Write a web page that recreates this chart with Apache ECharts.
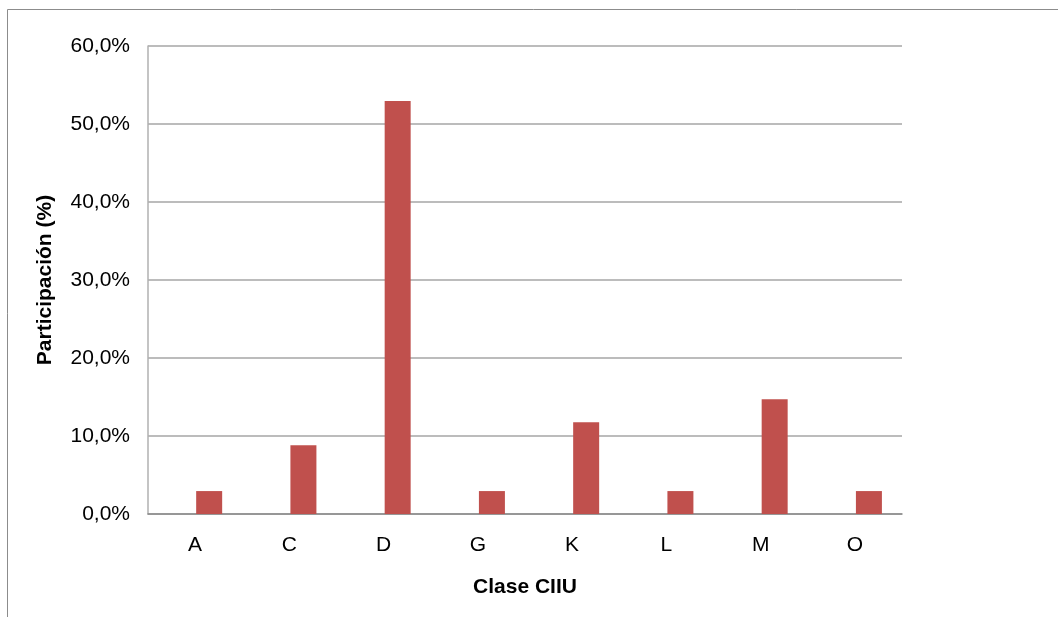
<!DOCTYPE html>
<html>
<head>
<meta charset="utf-8">
<script src="https://cdn.jsdelivr.net/npm/echarts@6/dist/echarts.min.js"></script>
<style>
  html, body { margin: 0; padding: 0; background: #ffffff; }
  #chart { width: 1058px; height: 617px; }
</style>
</head>
<body>
<div id="chart"></div>
<script>
// Participación por clase CIIU (%)
const categories = ['A', 'C', 'D', 'G', 'K', 'L', 'M', 'O'];
const participacion = [2.94, 8.82, 52.94, 2.94, 11.76, 2.94, 14.71, 2.94];
// empty companion series: keeps its slot so the bars sit right of each category centre
const reservado = [null, null, null, null, null, null, null, null];
const yTicks = [0, 10, 20, 30, 40, 50, 60];

const FONT = '"Liberation Sans", Arial, sans-serif';

const chart = echarts.init(document.getElementById('chart'), null, { renderer: 'canvas' });

chart.setOption({
  backgroundColor: '#ffffff',
  animation: false,
  graphic: [{
    type: 'rect',
    shape: { x: 7.5, y: 9.5, width: 1200, height: 800 },
    style: { fill: 'none', stroke: '#8c8c8c', lineWidth: 1 },
    silent: true
  }],
  grid: { left: 148, right: 156, top: 46, bottom: 103, containLabel: false },
  xAxis: {
    type: 'category',
    data: categories,
    name: 'Clase CIIU',
    nameLocation: 'middle',
    nameGap: 63,
    nameTextStyle: { fontFamily: FONT, fontSize: 21, fontWeight: 'bold', color: '#000' },
    axisLine: { lineStyle: { color: '#8a8a8a', width: 1.5 } },
    axisTick: { show: false },
    axisLabel: { fontFamily: FONT, fontSize: 21, color: '#000', margin: 21 }
  },
  yAxis: {
    type: 'value',
    min: yTicks[0],
    max: yTicks[yTicks.length - 1],
    interval: 10,
    name: 'Participación (%)',
    nameLocation: 'middle',
    nameGap: 92,
    nameRotate: 90,
    nameTextStyle: { fontFamily: FONT, fontSize: 21, fontWeight: 'bold', color: '#000' },
    axisLine: { show: true, lineStyle: { color: '#b0b0b0', width: 1.5 } },
    axisTick: { show: false },
    axisLabel: {
      fontFamily: FONT, fontSize: 21, color: '#000', margin: 18,
      formatter: v => v.toFixed(1).replace('.', ',') + '%'
    },
    splitLine: { lineStyle: { color: '#a6a6a6', width: 1.5 } }
  },
  series: [{
    type: 'bar',
    data: reservado,
    barWidth: 26,
    barGap: '8%',
    silent: true
  }, {
    type: 'bar',
    data: participacion,
    barWidth: 26,
    barGap: '8%',
    itemStyle: { color: '#C0504D' }
  }]
});
</script>
</body>
</html>
